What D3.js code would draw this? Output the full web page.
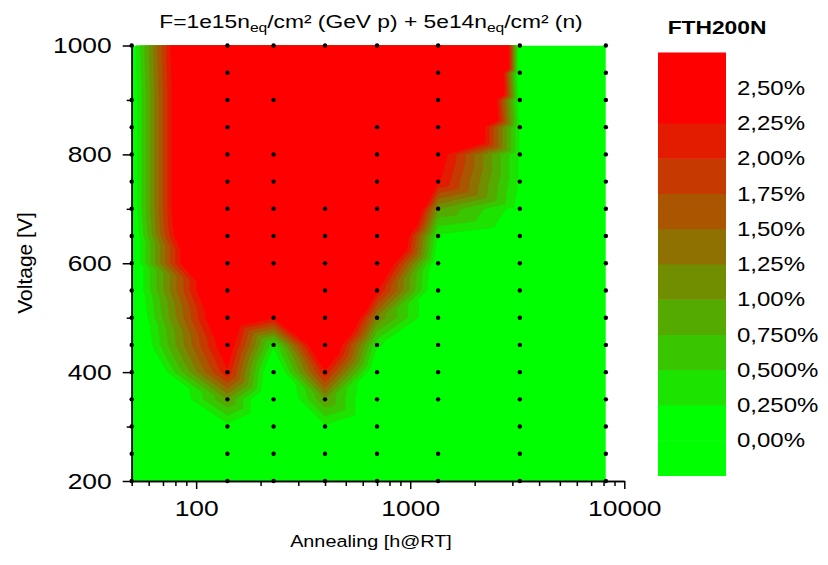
<!DOCTYPE html>
<html>
<head>
<meta charset="utf-8">
<script src="https://cdn.jsdelivr.net/npm/d3@7"></script>
<style>
body { margin: 0; background: #fff; }
text { font-family: "Liberation Sans", Arial, sans-serif; fill: #000; }
</style>
</head>
<body>
<div id="chart"></div>
<script>
// Define SVG area dimensions
var svgWidth = 828;
var svgHeight = 565;

// Annealing times [h@RT] of the measured columns
var annealing = [50, 140, 230, 400, 700, 1350, 3250, 8200];
// Bias voltages [V], top row first
var voltages = [1000, 950, 900, 850, 800, 750, 700, 650, 600, 550, 500, 450, 400, 350, 300, 250, 200];

// FTH200N [%] per annealing column, one value per voltage (null = no measurement)
var col50   = [0.0, null, -0.1, -0.1, -0.1, -0.1, -0.1, -0.2, -0.2, -0.2, -0.3, -0.4, -0.9, -1.0, -0.5, -0.3, -0.2];
var col140  = [5.5, 5.5, 5.5, 5.5, 5.5, 5.5, 5.5, 5.3, 4.6, 3.4, 3.0, 2.6, 2.2, 1.0, 0.15, -0.3, -0.3];
var col230  = [8, null, 8, null, 8, 8, 8, 7, 5, null, 2.3, 0.3, -0.3, -0.5, -0.5, -0.3, -0.2];
var col400  = [10, null, null, null, null, null, 10, 9, 8, 6, 4.5, 3.2, 2.2, 1.0, 0.2, -0.2, -0.2];
var col700  = [15, null, null, 12, 10, 8, 6, 4.5, 3.2, 2.3, 1.2, 0.3, -0.2, -0.3, -0.3, -0.3, -0.3];
var col1350 = [18, 12, 8, 5, 2.5, 2.3, 1.0, 0.2, -0.1, -0.2, -0.2, -0.2, -0.2, -0.2, null, -0.2, -0.2];
var col3250 = [-0.2, -0.2, 0.0, 0.2, 0.2, 0.2, 0.1, -0.1, -0.2, -0.2, -0.2, -0.2, -0.2, -0.2, -0.2, -0.2, -0.2];
var col8200 = [-0.2, -0.2, -0.2, -0.2, -0.2, -0.2, -0.2, -0.2, -0.2, -0.2, -0.2, -0.2, -0.2, -0.2, -0.2, -0.2, -0.2];
var columns = [col50, col140, col230, col400, col700, col1350, col3250, col8200];

// Contour levels and legend
var levels = [0.25, 0.5, 0.75, 1.0, 1.25, 1.5, 1.75, 2.0, 2.25];
var legendTicks = [2.5, 2.25, 2.0, 1.75, 1.5, 1.25, 1.0, 0.75, 0.5, 0.25, 0.0];
var legendLabels = ["2,50%", "2,25%", "2,00%", "1,75%", "1,50%", "1,25%", "1,00%", "0,750%", "0,500%", "0,250%", "0,00%"];

// Axis ticks
var xMajor = [100, 1000, 10000];
var xMinor = [50, 60, 70, 80, 90, 200, 300, 400, 500, 600, 700, 800, 900,
              2000, 3000, 4000, 5000, 6000, 7000, 8000, 9000];
var yMajor = [200, 400, 600, 800, 1000];
var yMinor = [300, 500, 700, 900];

// the exported picture is stretched sideways, so is its text
var stretch = 1.2;

var svg = d3.select("#chart")
    .append("svg")
    .attr("width", svgWidth)
    .attr("height", svgHeight);

var xScale = d3.scaleLog().domain([50, 10000]).range([131.7, 624.3]);
var yScale = d3.scaleLinear().domain([200, 1000]).range([481, 45.5]);

// colours: green -> red in 9 steps
var colors = d3.range(levels.length + 1).map(function(k) {
    return d3.interpolateRgb("#00ff00", "#ff0000")(k / levels.length);
});
var colorScale = d3.scaleThreshold().domain(levels).range(colors);

// measured points in pixel space
var points = [];
annealing.forEach(function(t, i) {
    columns[i].forEach(function(v, j) {
        if (v === null) return;
        points.push({ t: t, volt: voltages[j], val: v, px: xScale(t), py: yScale(voltages[j]) });
    });
});

// triangulate and rasterise linear interpolation onto a grid
var x0 = xScale(annealing[0]), x1 = xScale(annealing[annealing.length - 1]);
var y0 = yScale(voltages[0]), y1 = yScale(voltages[voltages.length - 1]);
var res = 1;
var nx = Math.ceil((x1 - x0) * res) + 1;
var ny = Math.ceil((y1 - y0) * res) + 1;
var grid = new Float64Array(nx * ny).fill(-1);

var delaunay = d3.Delaunay.from(points, function(d) { return d.px; }, function(d) { return d.py; });
var tri = delaunay.triangles;
for (var k = 0; k < tri.length; k += 3) {
    var a = points[tri[k]], b = points[tri[k + 1]], c = points[tri[k + 2]];
    var ax = (a.px - x0) * res, ay = (a.py - y0) * res;
    var bx = (b.px - x0) * res, by = (b.py - y0) * res;
    var cx = (c.px - x0) * res, cy = (c.py - y0) * res;
    var det = (by - cy) * (ax - cx) + (cx - bx) * (ay - cy);
    if (Math.abs(det) < 1e-9) continue;
    var iMin = Math.max(0, Math.floor(Math.min(ax, bx, cx))), iMax = Math.min(nx - 1, Math.ceil(Math.max(ax, bx, cx)));
    var jMin = Math.max(0, Math.floor(Math.min(ay, by, cy))), jMax = Math.min(ny - 1, Math.ceil(Math.max(ay, by, cy)));
    for (var j = jMin; j <= jMax; j++) {
        for (var i = iMin; i <= iMax; i++) {
            var w1 = ((by - cy) * (i - cx) + (cx - bx) * (j - cy)) / det;
            var w2 = ((cy - ay) * (i - cx) + (ax - cx) * (j - cy)) / det;
            var w3 = 1 - w1 - w2;
            if (w1 >= -1e-6 && w2 >= -1e-6 && w3 >= -1e-6) {
                grid[j * nx + i] = w1 * a.val + w2 * b.val + w3 * c.val;
            }
        }
    }
}

// clip to the measured area
svg.append("clipPath").attr("id", "plotClip")
    .append("rect")
    .attr("x", x0).attr("y", y0)
    .attr("width", x1 - x0).attr("height", y1 - y0);

var plot = svg.append("g").attr("clip-path", "url(#plotClip)");

plot.append("rect")
    .attr("x", x0).attr("y", y0)
    .attr("width", x1 - x0).attr("height", y1 - y0)
    .attr("fill", colors[0]);

var contours = d3.contours().size([nx, ny]).thresholds(levels)(grid);
var path = d3.geoPath(d3.geoIdentity().scale(1 / res).translate([x0 - 0.5 / res, y0 - 0.5 / res]));

plot.selectAll("path.level")
    .data(contours)
    .enter()
    .append("path")
    .attr("class", "level")
    .attr("d", path)
    .attr("fill", function(d) { return colorScale(d.value); })
    .attr("stroke", function(d) { return colorScale(d.value); })
    .attr("stroke-width", 0.5);

// measurement points
svg.append("g")
    .selectAll("circle")
    .data(points)
    .enter()
    .append("circle")
    .attr("cx", function(d) { return d.px; })
    .attr("cy", function(d) { return d.py; })
    .attr("r", 2.2)
    .attr("fill", "#000");

// axes
var xAxisG = svg.append("g")
    .attr("transform", "translate(0, 481)")
    .call(d3.axisBottom(xScale).tickValues(xMajor).tickSize(8).tickSizeOuter(0).tickPadding(11)
        .tickFormat(d3.format("d")));
svg.append("g")
    .attr("transform", "translate(0, 481)")
    .call(d3.axisBottom(xScale).tickValues(xMinor).tickSize(5).tickSizeOuter(0).tickFormat(""));

var yAxisG = svg.append("g")
    .attr("transform", "translate(131.7, 0)")
    .call(d3.axisLeft(yScale).tickValues(yMajor).tickSize(9).tickSizeOuter(0).tickPadding(7)
        .tickFormat(d3.format("d")));
svg.append("g")
    .attr("transform", "translate(131.7, 0)")
    .call(d3.axisLeft(yScale).tickValues(yMinor).tickSize(5).tickSizeOuter(0).tickFormat(""));

svg.selectAll(".domain, .tick line").attr("stroke", "#000").attr("stroke-width", 1.5);

xAxisG.selectAll("text")
    .style("font-size", "22px")
    .attr("transform", "scale(" + stretch + ",1)");
yAxisG.selectAll("text")
    .style("font-size", "22px")
    .attr("transform", function() { return "translate(" + (+d3.select(this).attr("x") - 4) + ",0) scale(" + stretch + ",1)"; })
    .attr("x", 0);

// axis titles
svg.append("text")
    .attr("transform", "translate(32, 263) rotate(-90)")
    .attr("text-anchor", "middle")
    .style("font-size", "21px")
    .text("Voltage [V]");

svg.append("text")
    .attr("transform", "translate(371, 547) scale(" + stretch + ",1)")
    .attr("text-anchor", "middle")
    .style("font-size", "16.5px")
    .text("Annealing [h@RT]");

// chart title with subscripts
var title = svg.append("text")
    .attr("transform", "translate(371, 28) scale(" + stretch + ",1)")
    .attr("text-anchor", "middle")
    .style("font-size", "19px");
title.append("tspan").text("F=1e15n");
title.append("tspan").attr("baseline-shift", "-30%").style("font-size", "13px").text("eq");
title.append("tspan").text("/cm² (GeV p) + 5e14n");
title.append("tspan").attr("baseline-shift", "-30%").style("font-size", "13px").text("eq");
title.append("tspan").text("/cm² (n)");

// legend
var legendY = d3.scaleLinear().domain([-0.25, 2.75]).range([475.5, 52.5]);
var legendBlocks = d3.range(-0.25, 2.74, 0.25);

svg.append("text")
    .attr("transform", "translate(717, 34) scale(" + stretch + ",1)")
    .attr("text-anchor", "middle")
    .style("font-size", "19px")
    .style("font-weight", "bold")
    .text("FTH200N");

svg.append("g")
    .selectAll("rect")
    .data(legendBlocks)
    .enter()
    .append("rect")
    .attr("x", 658)
    .attr("width", 68)
    .attr("y", function(d) { return legendY(d + 0.25); })
    .attr("height", function(d) { return legendY(d) - legendY(d + 0.25) + 0.5; })
    .attr("fill", function(d) { return colorScale(d + 0.125); });

svg.append("g")
    .selectAll("text")
    .data(legendTicks)
    .enter()
    .append("text")
    .attr("transform", function(d) { return "translate(737," + legendY(d) + ") scale(" + stretch + ",1)"; })
    .attr("dy", "0.36em")
    .style("font-size", "20px")
    .text(function(d, i) { return legendLabels[i]; });
</script>
</body>
</html>
